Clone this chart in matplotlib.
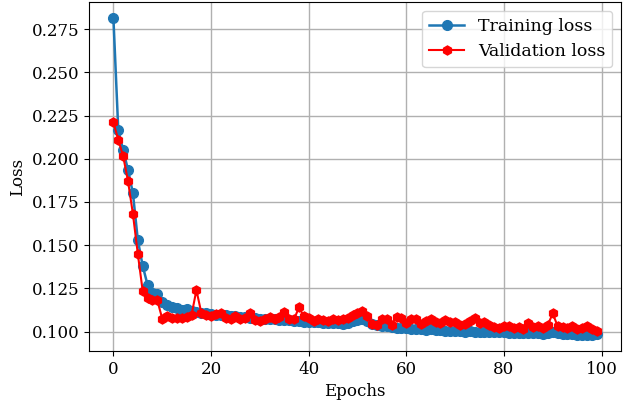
import numpy as np
import matplotlib
matplotlib.use("Agg")
import matplotlib.pyplot as plt

train_loss = [
    0.2815, 0.2165, 0.2050, 0.1935, 0.1800, 0.1530, 0.1380, 0.1270, 0.1225, 0.1215,
    0.1170, 0.1155, 0.1145, 0.1135, 0.1125, 0.1130, 0.1120, 0.1115, 0.1110, 0.1105,
    0.1100, 0.1098, 0.1095, 0.1093, 0.1090, 0.1088, 0.1085, 0.1083, 0.1080, 0.1078,
    0.1075, 0.1073, 0.1070, 0.1070, 0.1068, 0.1065, 0.1065, 0.1063, 0.1060, 0.1058,
    0.1055, 0.1055, 0.1053, 0.1050, 0.1050, 0.1048, 0.1047, 0.1045, 0.1050, 0.1060,
    0.1068, 0.1070, 0.1060, 0.1045, 0.1040, 0.1035, 0.1030, 0.1025, 0.1022, 0.1020,
    0.1018, 0.1015, 0.1015, 0.1012, 0.1010, 0.1012, 0.1010, 0.1008, 0.1005, 0.1005,
    0.1003, 0.1002, 0.1000, 0.1002, 0.1000, 0.0998, 0.1000, 0.0998, 0.0995, 0.0995,
    0.0995, 0.0993, 0.0993, 0.0992, 0.0990, 0.0992, 0.0990, 0.0990, 0.0988, 0.0990,
    0.0995, 0.0992, 0.0988, 0.0985, 0.0985, 0.0983, 0.0982, 0.0980, 0.0982, 0.0985,
]

val_loss = [
    0.2210, 0.2110, 0.2015, 0.1870, 0.1680, 0.1450, 0.1235, 0.1195, 0.1185, 0.1180,
    0.1075, 0.1090, 0.1080, 0.1080, 0.1078, 0.1085, 0.1095, 0.1240, 0.1110, 0.1095,
    0.1090, 0.1100, 0.1105, 0.1080, 0.1070, 0.1090, 0.1075, 0.1078, 0.1105, 0.1065,
    0.1060, 0.1075, 0.1085, 0.1070, 0.1085, 0.1115, 0.1075, 0.1070, 0.1140, 0.1090,
    0.1080, 0.1060, 0.1075, 0.1065, 0.1060, 0.1070, 0.1065, 0.1070, 0.1080, 0.1095,
    0.1110, 0.1120, 0.1090, 0.1045, 0.1040, 0.1075, 0.1075, 0.1040, 0.1085, 0.1080,
    0.1050, 0.1075, 0.1070, 0.1045, 0.1060, 0.1075, 0.1055, 0.1050, 0.1065, 0.1055,
    0.1055, 0.1040, 0.1045, 0.1060, 0.1080, 0.1050, 0.1055, 0.1040, 0.1025, 0.1020,
    0.1030, 0.1035, 0.1020, 0.1025, 0.1015, 0.1050, 0.1025, 0.1030, 0.1020, 0.1040,
    0.1105, 0.1030, 0.1025, 0.1020, 0.1035, 0.1015, 0.1020, 0.1030, 0.1015, 0.1005,
]

epochs = np.arange(len(train_loss))

plt.rcParams["font.family"] = ["DejaVu Serif"]
plt.rcParams["font.size"] = 12

fig, ax = plt.subplots(figsize=(6.24, 4.08), dpi=100)
ax.plot(epochs, train_loss, marker="o", markersize=7, color="#1f77b4",
        linewidth=1.8, label="Training loss")
ax.plot(epochs, val_loss, marker="h", markersize=6.5, color="red",
        linewidth=1.5, label="Validation loss")
ax.set_xlabel("Epochs")
ax.set_ylabel("Loss")
ax.grid(True, color="#b0b0b0", linewidth=1)
ax.legend(loc="upper right", fontsize=12.5)
fig.subplots_adjust(left=0.143, right=0.995, top=0.995, bottom=0.14)
fig.savefig("out.png", dpi=100)
